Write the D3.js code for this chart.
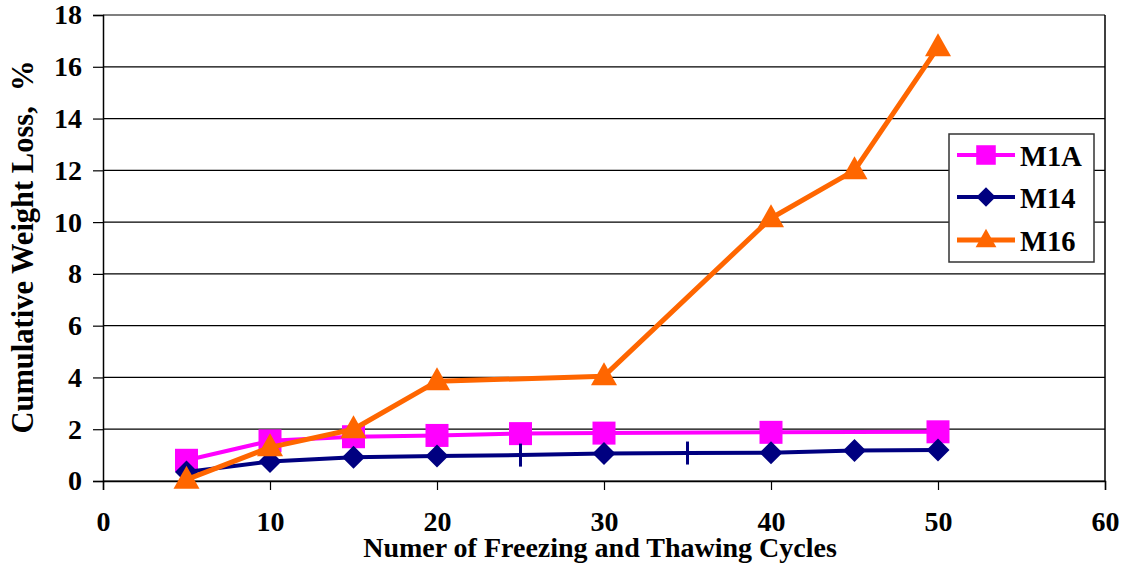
<!DOCTYPE html>
<html>
<head>
<meta charset="utf-8">
<script src="https://cdn.jsdelivr.net/npm/d3@7"></script>
<style>
  html, body { margin: 0; padding: 0; background: #fff; }
  svg { display: block; font-family: "Liberation Serif", "Times New Roman", serif; font-weight: bold; }
</style>
</head>
<body>
<svg id="chart" width="1126" height="577"></svg>
<script>
// Cumulative weight loss (%) after freeze-thaw cycles
const xTicks = [0, 10, 20, 30, 40, 50, 60];
const yTicks = [0, 2, 4, 6, 8, 10, 12, 14, 16, 18];

const m1aCycles = [5, 10, 15, 20, 25, 30, 40, 50];
const m1aLoss   = [0.8, 1.55, 1.71, 1.76, 1.83, 1.85, 1.88, 1.9];

const m14Cycles = [5, 10, 15, 20, 25, 30, 35, 40, 45, 50];
const m14Loss   = [0.35, 0.75, 0.92, 0.97, 1.0, 1.06, 1.08, 1.09, 1.18, 1.2];
const m14Unmarked = [25, 35];   // readings shown with a plain tick instead of a diamond

const m16Cycles = [5, 10, 15, 20, 30, 40, 45, 50];
const m16Loss   = [0.05, 1.3, 2.0, 3.85, 4.05, 10.15, 12.0, 16.75];

const seriesNames = ["M1A", "M14", "M16"];

const svg = d3.select("#chart");
const plotLeft = 103, plotRight = 1105, plotTop = 15, plotBottom = 481;

const x = d3.scaleLinear().domain([0, 60]).range([plotLeft, plotRight]);
const y = d3.scaleLinear().domain([0, 18]).range([plotBottom, plotTop]);

// horizontal gridlines
svg.append("g").selectAll("line").data(yTicks).join("line")
  .attr("x1", plotLeft).attr("x2", plotRight)
  .attr("y1", d => y(d)).attr("y2", d => y(d))
  .attr("stroke", "#000").attr("stroke-width", 1.2);

// right border of the plot area
svg.append("line").attr("x1", plotRight).attr("x2", plotRight).attr("y1", y(18)).attr("y2", y(0))
  .attr("stroke", "#000").attr("stroke-width", 1.5);

// axes
const xAxis = d3.axisBottom(x).tickValues(xTicks).tickSize(9).tickPadding(21);
const gx = svg.append("g").attr("transform", `translate(0,${plotBottom})`).call(xAxis);
gx.select(".domain").attr("stroke", "#000").attr("stroke-width", 1.5);
gx.selectAll(".tick line").attr("stroke", "#000").attr("stroke-width", 1.2);
gx.selectAll(".tick text").attr("font-size", 28).attr("font-family", "Liberation Serif")
  .attr("font-weight", "bold").attr("fill", "#000").attr("dy", "0.72em");

const yAxis = d3.axisLeft(y).tickValues(yTicks).tickSize(10).tickPadding(11);
const gy = svg.append("g").attr("transform", `translate(${plotLeft},0)`).call(yAxis);
gy.select(".domain").attr("stroke", "#000").attr("stroke-width", 1.5);
gy.selectAll(".tick line").attr("stroke", "#000").attr("stroke-width", 1.2);
gy.selectAll(".tick text").attr("font-size", 28).attr("font-family", "Liberation Serif")
  .attr("font-weight", "bold").attr("fill", "#000");

// axis titles
svg.append("text").attr("x", 600).attr("y", 557)
  .attr("text-anchor", "middle").attr("font-size", 28).attr("fill", "#000")
  .text("Numer of Freezing and Thawing Cycles");
svg.append("text").attr("transform", "translate(33,247) rotate(-90)")
  .attr("text-anchor", "middle").attr("font-size", 30.5).attr("fill", "#000")
  .attr("xml:space", "preserve").style("white-space", "pre")
  .text("Cumulative Weight Loss,  %");

// marker shapes
const squarePath = d3.symbol().type(d3.symbolSquare).size(23 * 23)();
const diamondPath = "M0,-11.5L11.5,0L0,11.5L-11.5,0Z";
const trianglePath = "M0,-14L13,9L-13,9Z";

const line = d3.line().x(d => x(d[0])).y(d => y(d[1]));

const series = [
  { name: seriesNames[0], pts: d3.zip(m1aCycles, m1aLoss), color: "#FF00FF", width: 4, marker: squarePath },
  { name: seriesNames[1], pts: d3.zip(m14Cycles, m14Loss), color: "#000080", width: 4, marker: diamondPath },
  { name: seriesNames[2], pts: d3.zip(m16Cycles, m16Loss), color: "#FF6600", width: 5, marker: trianglePath }
];

series.forEach(s => {
  const g = svg.append("g");
  g.append("path").attr("d", line(s.pts)).attr("fill", "none")
    .attr("stroke", s.color).attr("stroke-width", s.width).attr("stroke-linejoin", "round");
  s.pts.forEach(p => {
    if (s.name === "M14" && m14Unmarked.includes(p[0])) {
      g.append("line").attr("x1", x(p[0])).attr("x2", x(p[0]))
        .attr("y1", y(p[1]) - 11.5).attr("y2", y(p[1]) + 11.5)
        .attr("stroke", s.color).attr("stroke-width", 3);
    } else {
      g.append("path").attr("d", s.marker)
        .attr("transform", `translate(${x(p[0])},${y(p[1])})`)
        .attr("fill", s.color);
    }
  });
});

// legend
const lg = svg.append("g").attr("transform", "translate(949,134)");
lg.append("rect").attr("width", 145).attr("height", 128)
  .attr("fill", "#fff").attr("stroke", "#333").attr("stroke-width", 1.5);
const rowsY = [21, 63, 106];
series.forEach((s, i) => {
  const ry = rowsY[i];
  lg.append("line").attr("x1", 8).attr("x2", 66).attr("y1", ry).attr("y2", ry)
    .attr("stroke", s.color).attr("stroke-width", s.width);
  const scale = s.name === "M16" ? 0.8 : 0.85;
  lg.append("path").attr("d", s.marker)
    .attr("transform", `translate(37,${ry}) scale(${scale})`).attr("fill", s.color);
  lg.append("text").attr("x", 71).attr("y", ry + 11).attr("font-size", 28.5).attr("fill", "#000").text(s.name);
});
</script>
</body>
</html>
